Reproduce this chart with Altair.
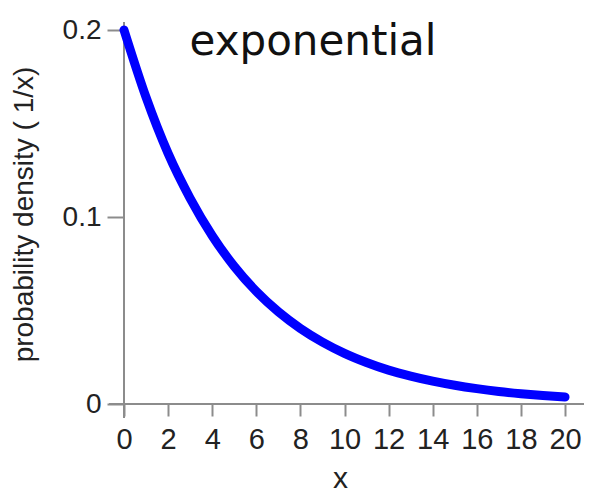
import altair as alt
import pandas as pd

# values
x_vals = [0, 1, 2, 3, 4, 5, 6, 7, 8, 9, 10, 11, 12, 13, 14, 15, 16, 17, 18, 19, 20]
density = [0.200, 0.164, 0.134, 0.110, 0.090, 0.0736, 0.0602, 0.0493, 0.0404, 0.0331,
           0.0271, 0.0222, 0.0181, 0.0149, 0.0122, 0.0100, 0.0082, 0.0067, 0.0055, 0.0045, 0.0037]
x_ticks = [0, 2, 4, 6, 8, 10, 12, 14, 16, 18, 20]
y_ticks = [0, 0.1, 0.2]
chart_title = "exponential"
x_title = "x"
y_title = "probability density ( 1/x)"

W, H = 441, 374
GRAY = "#8c8c8c"
LABEL = "#222222"
FONT = "Liberation Sans, Arial, sans-serif"

df = pd.DataFrame({"x": x_vals, "density": density})
one = pd.DataFrame({"a": [0]})

x_enc = alt.X(
    "x:Q",
    scale=alt.Scale(domain=[0, 20], nice=False),
    axis=alt.Axis(
        values=x_ticks, domain=False, grid=False,
        tickSize=12, tickWidth=2, tickColor=GRAY,
        labelFont=FONT, labelFontSize=29, labelColor=LABEL, labelPadding=9,
        labelFlush=False, labelOverlap=False, labelBound=False,
        title=x_title, titleFont=FONT, titleFontSize=30, titleFontWeight="normal",
        titleColor=LABEL, titleX=216, titleY=83, titleBaseline="alphabetic",
        titleAlign="center",
    ),
)
y_enc = alt.Y(
    "density:Q",
    scale=alt.Scale(domain=[0, 0.2], nice=False),
    axis=alt.Axis(
        values=y_ticks, format="~g", domain=False, grid=False,
        tickSize=17, tickWidth=2, tickColor=GRAY,
        labelFont=FONT, labelFontSize=28, labelColor=LABEL, labelPadding=6,
        labelFlush=False, labelOverlap=False, labelBound=False,
        title=y_title, titleFont=FONT, titleFontSize=28, titleFontWeight="normal",
        titleColor=LABEL, titleX=-92, titleY=184, titleBaseline="alphabetic",
        titleAlign="center", titleAngle=270,
    ),
)

x_axis_line = alt.Chart(one).mark_rule(color=GRAY, strokeWidth=2).encode(
    x=alt.value(-15), x2=alt.value(W + 20), y=alt.value(H)
)
y_axis_line = alt.Chart(one).mark_rule(color=GRAY, strokeWidth=2).encode(
    x=alt.value(0), y=alt.value(-8), y2=alt.value(H + 14)
)

curve = alt.Chart(df).mark_line(
    color="#0000ff", strokeWidth=9, strokeCap="round", strokeJoin="round",
    interpolate="monotone", clip=False,
).encode(x=x_enc, y=y_enc)

title_mark = alt.Chart(one).mark_text(
    font="DejaVu Sans", fontSize=42, baseline="alphabetic", align="center", color="#111111"
).encode(x=alt.value(189), y=alt.value(25), text=alt.value(chart_title))

chart = alt.layer(x_axis_line, y_axis_line, curve, title_mark).properties(
    width=W, height=H,
    padding={"left": 116, "top": 22, "right": 19, "bottom": 90},
    autosize=alt.AutoSizeParams(type="none"),
    background="white",
).configure_view(stroke=None)

chart.save("out.html", embed_options={"renderer": "svg", "actions": False})
